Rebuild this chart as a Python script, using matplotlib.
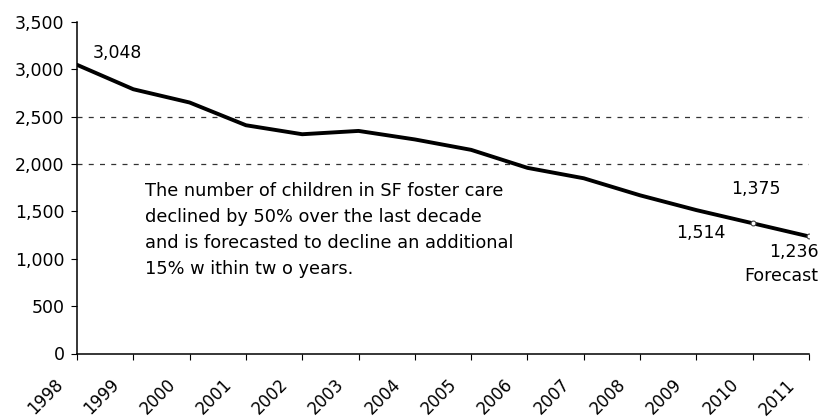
import matplotlib.pyplot as plt
from matplotlib.transforms import ScaledTranslation

# SF foster care caseload, 2010 and 2011 are forecast points
years = ['1998', '1999', '2000', '2001', '2002', '2003', '2004',
         '2005', '2006', '2007', '2008', '2009', '2010', '2011']
children = [3048, 2790, 2650, 2410, 2315, 2350, 2260,
            2150, 1960, 1850, 1670, 1514, 1375, 1236]
forecast_idx = [12, 13]
ref_lines = [2000, 2500]
y_ticks = [0, 500, 1000, 1500, 2000, 2500, 3000, 3500]

note = ("The number of children in SF foster care\n"
        "declined by 50% over the last decade\n"
        "and is forecasted to decline an additional\n"
        "15% w ithin tw o years.")

plt.rcParams['font.family'] = ['DejaVu Sans']

fig = plt.figure(figsize=(8.31, 4.18), dpi=100)
ax = fig.add_axes([77/831, 1 - 353.5/418, (809 - 77)/831, (353.5 - 22)/418])

x = list(range(len(years)))
for v in ref_lines:
    ax.axhline(v, color='#333333', lw=0.9, ls=(0, (4, 5)), zorder=1)

ax.plot(x, children, color='black', lw=2.8, solid_capstyle='round', zorder=3)
ax.plot([x[i] for i in forecast_idx], [children[i] for i in forecast_idx],
        ls='none', marker='o', ms=3.5, mfc='white', mec='#444444', mew=0.8, zorder=4)

ax.set_xlim(0, len(years) - 1)
ax.set_ylim(0, 3500)
ax.set_yticks(y_ticks)
ax.set_yticklabels([f'{v:,}' for v in y_ticks], fontsize=12.5)
ax.set_xticks(x)

ax.tick_params(axis='y', length=4, width=0.8, pad=5)
ax.tick_params(axis='x', length=4, width=0.8, direction='out', pad=0)
ax.set_xticklabels(years, fontsize=12, rotation=45, ha='right', va='center',
                   rotation_mode='anchor')
shift = ScaledTranslation(-0.17, -0.23, fig.dpi_scale_trans)
for lab in ax.get_xticklabels():
    lab.set_transform(lab.get_transform() + shift)

for s in ['top', 'right']:
    ax.spines[s].set_visible(False)
for s in ['left', 'bottom']:
    ax.spines[s].set_linewidth(1.1)

# value labels
ax.annotate(f'{children[0]:,}', (x[0], children[0]), xytext=(11, 2),
            textcoords='offset points', fontsize=12.5, ha='left', va='bottom')
ax.annotate(f'{children[12]:,}', (x[12], children[12]), xytext=(2, 18),
            textcoords='offset points', fontsize=12.5, ha='center', va='bottom')
ax.annotate(f'{children[11]:,}', (x[11], children[11]), xytext=(3, -10),
            textcoords='offset points', fontsize=12.5, ha='center', va='top')
ax.annotate(f'{children[13]:,}\nForecast', (x[13], children[13]), xytext=(7, -5),
            textcoords='offset points', fontsize=12.5, ha='right', va='top',
            multialignment='right', linespacing=1.4, annotation_clip=False)

ax.text(0.093, 0.517, note, transform=ax.transAxes, fontsize=12.8,
        ha='left', va='top', linespacing=1.58)

fig.savefig('out.png', dpi=100)
